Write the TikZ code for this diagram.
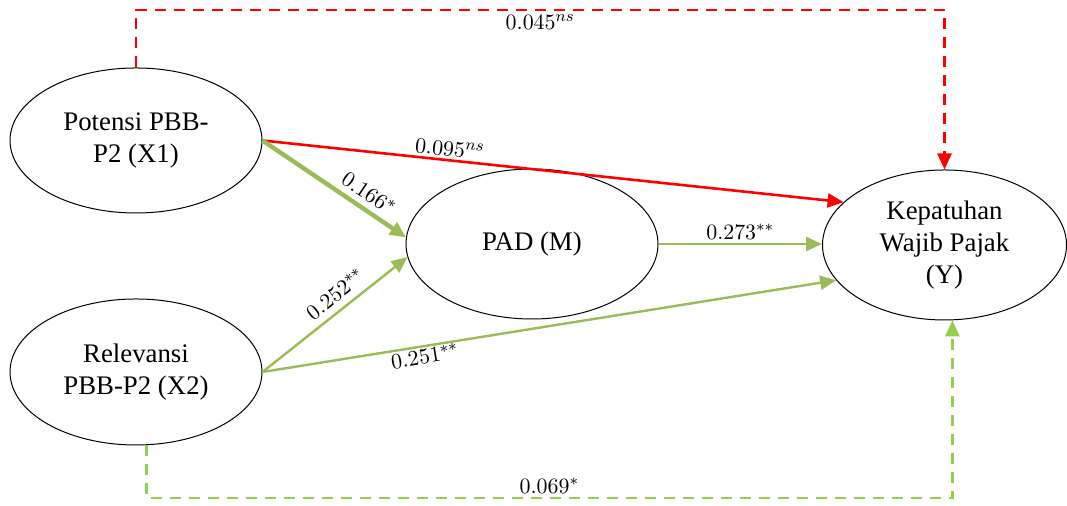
\documentclass[tikz,border=0pt]{standalone}
\usepackage{fontspec}
\setmainfont{Liberation Serif}
\usetikzlibrary{arrows.meta,shapes.geometric}
\definecolor{solidgreen}{HTML}{9BBB59}
\definecolor{dashgreen}{HTML}{92D050}
\definecolor{pathred}{HTML}{FF0000}
\tikzset{
  var/.style={draw=black, line width=0.5pt, ellipse, inner sep=0pt, align=center,
    font=\fontsize{13.4}{16}\selectfont},
  tip/.style={-{Triangle[length=8pt,width=7pt]}},
  redpath/.style={tip, draw=pathred, line width=1.3pt},
  greenpath/.style={tip, draw=solidgreen, line width=1.2pt},
  reddash/.style={tip, draw=pathred, line width=1.4pt, dash pattern=on 5.5pt off 4pt},
  greendash/.style={tip, draw=dashgreen, line width=1.4pt, dash pattern=on 5.5pt off 4pt},
  coef/.style={font=\fontsize{11}{12}\selectfont, inner sep=1.5pt, text=black}
}
\begin{document}
\begin{tikzpicture}[x=0.5pt,y=0.5pt]
\useasboundingbox (0,0) rectangle (1067,506);
\node[var, minimum width=126pt, minimum height=72.5pt] (x1) at (136,365.5) {Potensi PBB-\\P2 (X1)};
\node[var, minimum width=126pt, minimum height=73pt] (x2) at (136,134) {Relevansi\\PBB-P2 (X2)};
\node[var, minimum width=126pt, minimum height=75pt] (m) at (532,262) {PAD (M)};
\node[var, minimum width=122pt, minimum height=75pt] (y) at (944.5,261) {Kepatuhan\\Wajib Pajak\\(Y)};
% direct paths
\draw[redpath] (x1.east) -- node[coef, pos=0.32, above, sloped] {$0.095^{ns}$} (y.157);
\draw[greenpath, line width=2.2pt] (x1.east) -- node[coef, pos=0.68, above, sloped, inner sep=3pt] {$0.166^{*}$} (m.177);
\draw[greenpath] (x2.east) -- node[coef, pos=0.57, above, sloped, inner sep=3.5pt] {$0.252^{**}$} (m.186);
\draw[greenpath] (x2.east) -- node[coef, pos=0.28, below, sloped, inner sep=0.5pt] {$0.251^{**}$} (y.198);
\draw[greenpath] (m.east) -- node[coef, above] {$0.273^{**}$} (m.east -| y.west);
% dashed paths
\coordinate (topy) at (0,496);
\coordinate (boty) at (0,8);
\draw[reddash] (x1.north) -- (x1.north |- topy) -- node[coef, below, pos=0.5] {$0.045^{ns}$} (y.north |- topy) -- (y.north);
\draw[greendash] (x2.278) -- (x2.278 |- boty) -- node[coef, above, pos=0.5] {$0.069^{*}$} (y.276 |- boty) -- (y.276);
\end{tikzpicture}
\end{document}
